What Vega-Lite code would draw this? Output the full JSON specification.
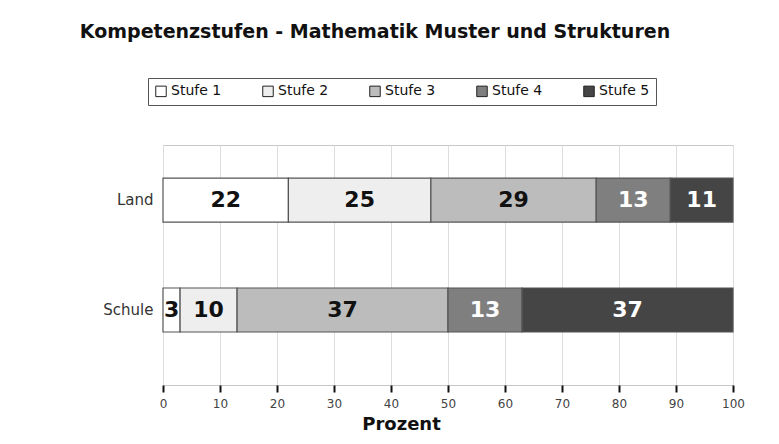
{
  "$schema": "https://vega.github.io/schema/vega-lite/v6.json",
  "width": 570,
  "height": 240,
  "autosize": {"type": "none"},
  "padding": {"left": 163, "top": 145, "right": 46, "bottom": 59},
  "background": "white",
  "title": {
    "text": "Kompetenzstufen - Mathematik Muster und Strukturen",
    "font": "DejaVu Sans",
    "fontSize": 19,
    "fontWeight": "bold",
    "color": "#111",
    "anchor": "middle",
    "dx": -73,
    "offset": 36
  },
  "data": {
    "values": [
      {"gruppe": "Land", "stufe": "Stufe 1", "wert": 22},
      {"gruppe": "Land", "stufe": "Stufe 2", "wert": 25},
      {"gruppe": "Land", "stufe": "Stufe 3", "wert": 29},
      {"gruppe": "Land", "stufe": "Stufe 4", "wert": 13},
      {"gruppe": "Land", "stufe": "Stufe 5", "wert": 11},
      {"gruppe": "Schule", "stufe": "Stufe 1", "wert": 3},
      {"gruppe": "Schule", "stufe": "Stufe 2", "wert": 10},
      {"gruppe": "Schule", "stufe": "Stufe 3", "wert": 37},
      {"gruppe": "Schule", "stufe": "Stufe 4", "wert": 13},
      {"gruppe": "Schule", "stufe": "Stufe 5", "wert": 37}
    ]
  },
  "encoding": {
    "y": {
      "field": "gruppe",
      "type": "nominal",
      "sort": ["Land", "Schule"],
      "scale": {"paddingInner": 0.6, "paddingOuter": 0.391, "align": 0.384},
      "axis": {
        "title": null,
        "domain": false,
        "ticks": false,
        "labelFont": "DejaVu Sans",
        "labelFontSize": 15,
        "labelColor": "#333",
        "labelPadding": 10
      }
    }
  },
  "layer": [
    {
      "mark": {"type": "bar", "stroke": "#555", "strokeWidth": 1.2},
      "encoding": {
        "x": {
          "field": "wert",
          "type": "quantitative",
          "stack": "zero",
          "scale": {"domain": [0, 100], "nice": false},
          "axis": {
            "values": [0, 5, 10, 15, 20, 25, 30, 35, 40, 45, 50, 55, 60, 65, 70, 75, 80, 85, 90, 95, 100],
            "labelExpr": "datum.value % 10 === 0 ? datum.label : ''",
            "labelFlush": false,
            "labelOverlap": false,
            "gridColor": "#dddddd",
            "gridOpacity": {"condition": {"test": "datum.value % 10 === 0", "value": 1}, "value": 0},
            "tickSize": {"condition": {"test": "datum.value % 10 === 0", "value": 7}, "value": 4},
            "tickWidth": 2,
            "tickColor": "#111",
            "domain": false,
            "labelFont": "DejaVu Sans",
            "labelFontSize": 12,
            "labelColor": "#444",
            "labelPadding": 6,
            "title": "Prozent",
            "titleFont": "DejaVu Sans",
            "titleFontSize": 18,
            "titleFontWeight": "bold",
            "titleColor": "#111",
            "titleX": 238,
            "titlePadding": 6
          }
        },
        "color": {
          "field": "stufe",
          "type": "nominal",
          "scale": {
            "domain": ["Stufe 1", "Stufe 2", "Stufe 3", "Stufe 4", "Stufe 5"],
            "range": ["#ffffff", "#eeeeee", "#bcbcbc", "#7f7f7f", "#454545"]
          },
          "legend": {
            "orient": "none",
            "legendX": -15,
            "legendY": -67,
            "direction": "horizontal",
            "columns": 5,
            "title": null,
            "symbolType": "square",
            "symbolSize": 110,
            "symbolStrokeColor": "#222",
            "symbolStrokeWidth": 1,
            "labelFont": "DejaVu Sans",
            "labelFontSize": 14,
            "labelColor": "#111",
            "labelOffset": 3,
            "columnPadding": 38,
            "padding": 6,
            "strokeColor": "#555",
            "fillColor": "white"
          }
        },
        "order": {"field": "stufe", "sort": "ascending"}
      }
    },
    {
      "mark": {"type": "text", "font": "DejaVu Sans", "fontSize": 22, "fontWeight": "bold", "baseline": "middle"},
      "encoding": {
        "x": {"field": "wert", "type": "quantitative", "stack": "zero", "bandPosition": 0.5},
        "detail": {"field": "stufe"},
        "order": {"field": "stufe", "sort": "ascending"},
        "text": {"field": "wert", "type": "quantitative"},
        "color": {
          "condition": {"test": "datum.stufe === 'Stufe 4' || datum.stufe === 'Stufe 5'", "value": "white"},
          "value": "#111"
        }
      }
    }
  ],
  "config": {
    "view": {"stroke": "#c8c8c8"},
    "font": "DejaVu Sans"
  }
}
